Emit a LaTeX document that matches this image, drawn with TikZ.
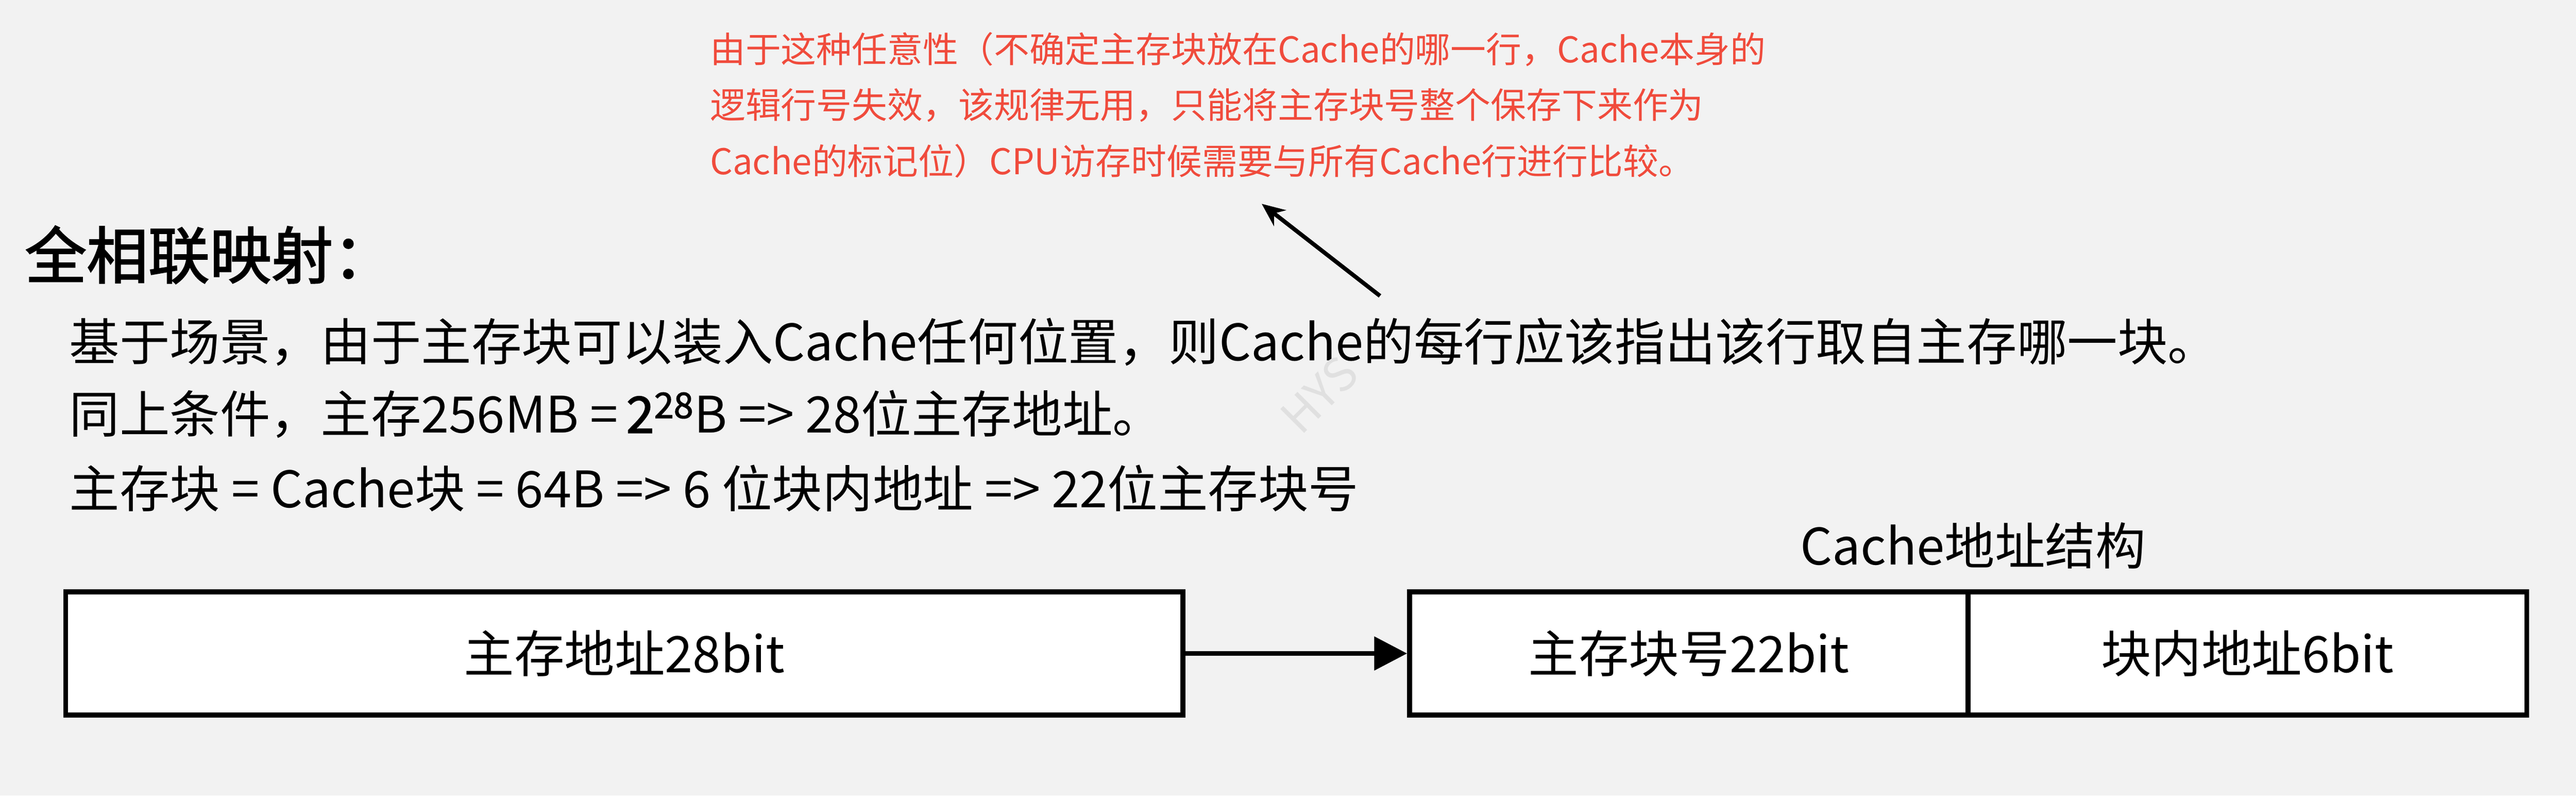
\documentclass[tikz,border=0pt]{standalone}
\usepackage{fontspec}
\setmainfont{Noto Sans CJK SC}[AutoFakeBold=2]
\usetikzlibrary{arrows.meta}
\definecolor{bg}{HTML}{F2F2F2}
\definecolor{redtxt}{HTML}{F04B3C}
\tikzset{
  cell/.style={draw=black,line width=3pt,fill=white,minimum height=75pt,inner sep=0pt},
  body/.style={anchor=west,inner sep=0pt,font=\fontsize{30.6}{36}\selectfont},
  note/.style={anchor=west,inner sep=0pt,text=redtxt,font=\fontsize{21.6}{26}\selectfont}
}
\begin{document}
\begin{tikzpicture}[x=1pt,y=-1pt]
\fill[bg] (0,0) rectangle (1568,484);
\useasboundingbox (0,0) rectangle (1568,484);
\node[note] (n1) at (432,30) {由于这种任意性（不确定主存块放在Cache的哪一行，Cache本身的};
\node[note] (n2) at (432,64) {逻辑行号失效，该规律无用，只能将主存块号整个保存下来作为};
\node[note] (n3) at (432,98) {Cache的标记位）CPU访存时候需要与所有Cache行进行比较。};
\coordinate (as) at (840,180);
\coordinate (ae) at (768,124);
\draw[line width=2.5pt,-{Stealth[length=14pt,width=12pt]}] (as) -- (ae);
\node[anchor=west,inner sep=0pt,font=\fontsize{37.5}{42}\selectfont\bfseries] (t) at (15,155) {全相联映射：};
\node[body] (l1) at (42,208) {基于场景，由于主存块可以装入Cache任何位置，则Cache的每行应该指出该行取自主存哪一块。};
\node[body] (l2) at (42,252) {同上条件，主存256MB =\,$\mathbf{2}^{\mathbf{28}}$B => 28位主存地址。};
\node[body] (l3) at (42,297) {主存块 = Cache块 = 64B => 6 位块内地址 => 22位主存块号};
\node[rotate=45,text=black!12,font=\fontsize{28}{32}\selectfont] (w) at (803,240) {HYS};
\node[font=\fontsize{30.6}{36}\selectfont,inner sep=0pt] (cap) at (1201,332) {Cache地址结构};
\node[cell,minimum width=680pt,font=\fontsize{30.6}{36}\selectfont] (b1) at (380,397.5) {主存地址28bit};
\node[cell,minimum width=340pt,font=\fontsize{30.6}{36}\selectfont] (b2) at (1028,397.5) {主存块号22bit};
\node[cell,minimum width=340pt,font=\fontsize{30.6}{36}\selectfont] (b3) at (1368,397.5) {块内地址6bit};
\draw[line width=3pt,-{Triangle[length=20pt,width=20pt]}] (b1.east) -- (b2.west);
\end{tikzpicture}
\end{document}
